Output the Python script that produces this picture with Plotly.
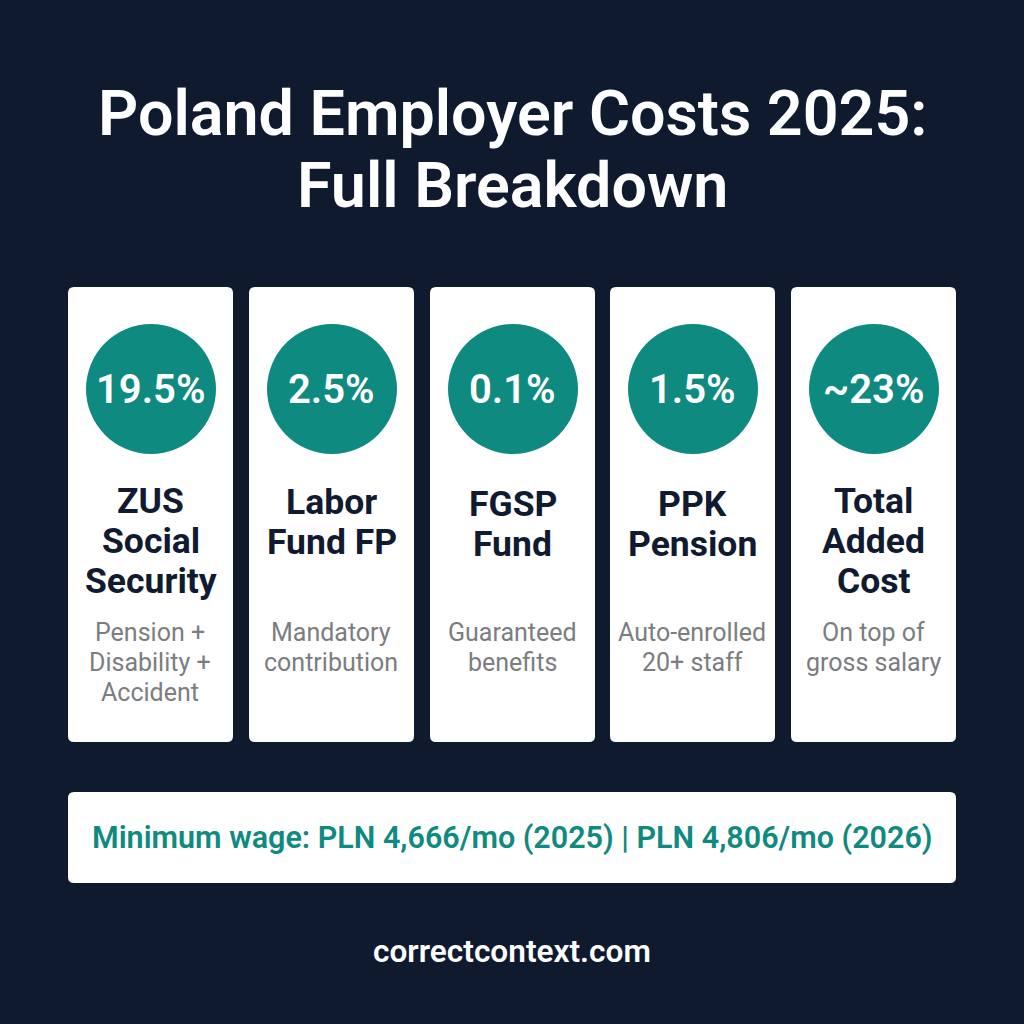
import plotly.graph_objects as go

# card contents
percents = ['19.5%', '2.5%', '0.1%', '1.5%', '~23%']
headings = [['ZUS', 'Social', 'Security'], ['Labor', 'Fund FP'], ['FGSP', 'Fund'], ['PPK', 'Pension'], ['Total', 'Added', 'Cost']]
notes = [['Pension +', 'Disability +', 'Accident'], ['Mandatory', 'contribution'], ['Guaranteed', 'benefits'], ['Auto-enrolled', '20+ staff'], ['On top of', 'gross salary']]
card_left = [68, 249, 430, 610, 791]
heading_y = [[501, 541, 581], [502, 542], [504, 544], [504, 544], [501, 541, 581]]
note_y = [[632, 662, 692], [632, 662], [632, 662], [632, 662], [632, 662]]

title_lines = ['Poland Employer Costs 2025:', 'Full Breakdown']
banner = 'Minimum wage: PLN 4,666/mo (2025) | PLN 4,806/mo (2026)'
footer = 'correctcontext.com'

BG = '#0f1a2f'
TEAL = '#0f8a80'
NAVY = '#101a30'
GREY = '#7b7d80'
FONT = 'Roboto'


def rounded(x0, y0, x1, y1, r):
    return (f'M{x0 + r},{y0} L{x1 - r},{y0} Q{x1},{y0} {x1},{y0 + r} L{x1},{y1 - r} Q{x1},{y1} {x1 - r},{y1} '
            f'L{x0 + r},{y1} Q{x0},{y1} {x0},{y1 - r} L{x0},{y0 + r} Q{x0},{y0} {x0 + r},{y0} Z')


fig = go.Figure()


def text(x, y, s, size, color, weight=400):
    fig.add_annotation(x=x, y=y, text=s, showarrow=False, xanchor='center', yanchor='middle',
                       font=dict(family=FONT, size=size, color=color, weight=weight))


for i, left in enumerate(card_left):
    cx = left + 82.5
    fig.add_shape(type='path', path=rounded(left, 287, left + 165, 742, 6), fillcolor='white', line_width=0, layer='below')
    fig.add_shape(type='circle', x0=cx - 64.5, x1=cx + 65.5, y0=324, y1=454, fillcolor=TEAL, line_width=0, layer='below')
    text(cx, 389, percents[i], 40, 'white', 600)
    for line, y in zip(headings[i], heading_y[i]):
        text(cx, y, line, 35.5, NAVY, 700)
    for line, y in zip(notes[i], note_y[i]):
        text(cx - 0.5, y, line, 25, GREY)

fig.add_shape(type='path', path=rounded(68, 792, 956, 883, 6), fillcolor='white', line_width=0, layer='below')
text(512, 838, banner, 30.5, TEAL, 600)
for line, y in zip(title_lines, [113, 185]):
    text(512, y, line, 62.8, 'white', 600)
text(512, 951, footer, 31.6, 'white', 600)

fig.update_xaxes(visible=False, range=[0, 1024], fixedrange=True)
fig.update_yaxes(visible=False, range=[1024, 0], fixedrange=True)
fig.update_layout(width=1024, height=1024, margin=dict(l=0, r=0, t=0, b=0), paper_bgcolor=BG, plot_bgcolor=BG, showlegend=False)

# page margin would otherwise show as a white frame
fig.write_html('out.html', config=dict(displayModeBar=False),
               post_script="document.body.style.margin='0';document.body.style.background='%s';" % BG)
